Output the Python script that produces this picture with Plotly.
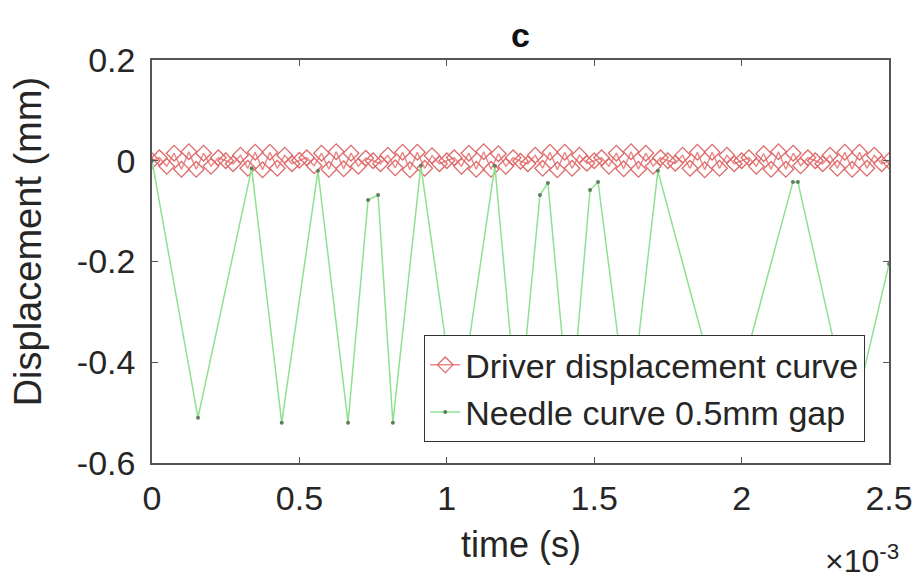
import plotly.graph_objects as go

# ---------------- data (time in units of 1e-3 s, displacement in mm) ----------------
driver_time = [
    0.000, 0.025, 0.050, 0.075, 0.100, 0.125, 0.150, 0.175, 0.200, 0.225,
    0.250, 0.275, 0.300, 0.325, 0.350, 0.375, 0.400, 0.425, 0.450, 0.475,
    0.500, 0.525, 0.550, 0.575, 0.600, 0.625, 0.650, 0.675, 0.700, 0.725,
    0.750, 0.775, 0.800, 0.825, 0.850, 0.875, 0.900, 0.925, 0.950, 0.975,
    1.000, 1.025, 1.050, 1.075, 1.100, 1.125, 1.150, 1.175, 1.200, 1.225,
    1.250, 1.275, 1.300, 1.325, 1.350, 1.375, 1.400, 1.425, 1.450, 1.475,
    1.500, 1.525, 1.550, 1.575, 1.600, 1.625, 1.650, 1.675, 1.700, 1.725,
    1.750, 1.775, 1.800, 1.825, 1.850, 1.875, 1.900, 1.925, 1.950, 1.975,
    2.000, 2.025, 2.050, 2.075, 2.100, 2.125, 2.150, 2.175, 2.200, 2.225,
    2.250, 2.275, 2.300, 2.325, 2.350, 2.375, 2.400, 2.425, 2.450, 2.475,
    2.500,
]
driver_disp = [
    0.000, 0.006, -0.011, 0.015, -0.017, 0.018, -0.017, 0.015, -0.011, 0.006,
    0.000, -0.006, 0.011, -0.015, 0.017, -0.018, 0.017, -0.015, 0.011, -0.006,
    0.001, 0.006, -0.010, 0.015, -0.017, 0.018, -0.016, 0.015, -0.011, 0.005,
    0.000, -0.006, 0.011, -0.014, 0.017, -0.018, 0.017, -0.015, 0.010, -0.006,
    0.000, 0.006, -0.011, 0.015, -0.017, 0.018, -0.017, 0.014, -0.011, 0.006,
    -0.001, -0.006, 0.011, -0.015, 0.017, -0.018, 0.017, -0.015, 0.011, -0.005,
    0.000, 0.006, -0.011, 0.015, -0.016, 0.018, -0.017, 0.015, -0.011, 0.006,
    0.000, -0.005, 0.011, -0.015, 0.017, -0.018, 0.017, -0.015, 0.011, -0.006,
    0.000, 0.006, -0.011, 0.014, -0.017, 0.018, -0.017, 0.015, -0.010, 0.006,
    0.000, -0.006, 0.011, -0.015, 0.017, -0.017, 0.017, -0.015, 0.011, -0.006,
    0.000,
]

needle_time = [0.000, 0.156, 0.338, 0.440, 0.563, 0.665, 0.733, 0.767, 0.817,
               0.912, 1.035, 1.163, 1.242, 1.316, 1.343, 1.418, 1.486, 1.513,
               1.618, 1.716, 1.950, 2.174, 2.191, 2.374, 2.500]
needle_disp = [0.000, -0.510, -0.015, -0.520, -0.020, -0.520, -0.078, -0.068, -0.520,
               -0.010, -0.520, -0.010, -0.520, -0.068, -0.044, -0.520, -0.058, -0.042,
               -0.520, -0.020, -0.530, -0.042, -0.042, -0.520, -0.205]

x_ticks = [0, 0.5, 1, 1.5, 2, 2.5]
x_tick_text = ["0", "0.5", "1", "1.5", "2", "2.5"]
y_ticks = [-0.6, -0.4, -0.2, 0, 0.2]
y_tick_text = ["-0.6", "-0.4", "-0.2", "0", "0.2"]

# ---------------- figure ----------------
FONT = "Liberation Sans, Arial, Helvetica, sans-serif"
TXT = "#262626"

fig = go.Figure()
fig.add_trace(go.Scatter(
    x=driver_time, y=driver_disp, mode="lines+markers",
    name="Driver displacement curve",
    line=dict(color="#ec8a8a", width=1.5),
    marker=dict(symbol="diamond-open", size=12, color="#df6a6a",
                line=dict(width=1.3)),
))
fig.add_trace(go.Scatter(
    x=needle_time, y=needle_disp, mode="lines+markers",
    name="Needle curve 0.5mm gap",
    line=dict(color="#8fe08f", width=1.5),
    marker=dict(symbol="circle", size=4, color="#5f7f5f"),
))

axis_common = dict(
    showline=True, linecolor="#555555", linewidth=1.5, mirror="ticks",
    ticks="inside", ticklen=6, tickcolor="#555555",
    showgrid=False, zeroline=False, automargin=False,
    tickfont=dict(family=FONT, size=34, color=TXT),
)

fig.update_xaxes(range=[0, 2.5], tickvals=x_ticks, ticktext=x_tick_text,
                 ticklabelstandoff=4, **axis_common)
fig.update_yaxes(range=[-0.6, 0.2], tickvals=y_ticks, ticktext=y_tick_text,
                 ticklabelstandoff=8, **axis_common)

# the page body adds an 8 px margin, so the figure is drawn 8 px in and down
fig.update_layout(
    width=905, height=571,
    margin=dict(l=144, r=24, t=52, b=116),
    plot_bgcolor="white", paper_bgcolor="white",
    showlegend=True,
    legend=dict(
        x=0.9675, y=0.052, xanchor="right", yanchor="bottom",
        bgcolor="white", bordercolor="#333333", borderwidth=1.2,
        font=dict(family=FONT, size=34, color=TXT),
        tracegroupgap=0, itemwidth=30,
    ),
    annotations=[
        dict(text="<b>c</b>", x=0.5, y=1.062, xref="paper", yref="paper",
             showarrow=False, xanchor="center", yanchor="middle",
             font=dict(family=FONT, size=34, color="#111111")),
        dict(text="time (s)", x=0.5, y=-0.203, xref="paper", yref="paper",
             showarrow=False, xanchor="center", yanchor="middle",
             font=dict(family=FONT, size=36, color=TXT)),
        dict(text="×10<sup>-3</sup>", x=0.963, y=-0.238, xref="paper", yref="paper",
             showarrow=False, xanchor="center", yanchor="middle",
             font=dict(family=FONT, size=32, color=TXT)),
        dict(text="Displacement (mm)", x=-0.168, y=0.548, xref="paper", yref="paper",
             showarrow=False, xanchor="center", yanchor="middle", textangle=-90,
             font=dict(family=FONT, size=38, color=TXT)),
    ],
)

fig.write_html("out.html")
